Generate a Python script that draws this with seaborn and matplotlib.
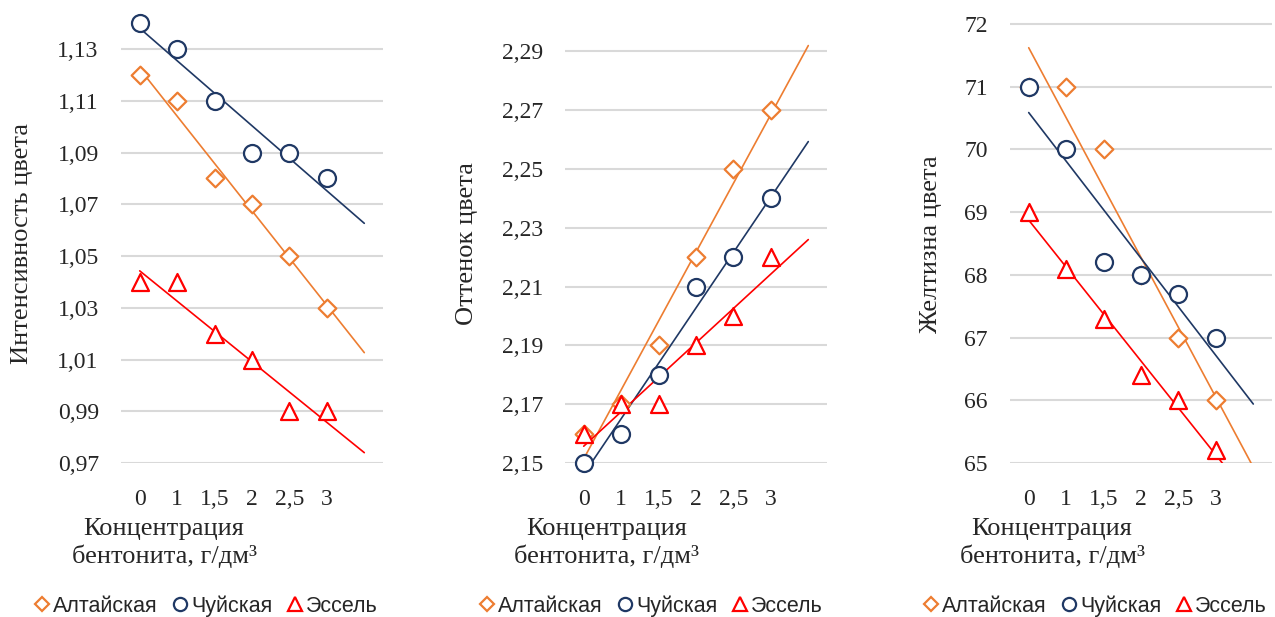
import numpy as np
import matplotlib
matplotlib.use("Agg")
import matplotlib.pyplot as plt
import seaborn as sns
from matplotlib.lines import Line2D

# ---------------- data ----------------
conc_labels = ["0", "1", "1,5", "2", "2,5", "3"]
series_names = ["Алтайская", "Чуйская", "Эссель"]

intensity_altai = [1.12, 1.11, 1.08, 1.07, 1.05, 1.03]
intensity_chui = [1.14, 1.13, 1.11, 1.09, 1.09, 1.08]
intensity_essel = [1.04, 1.04, 1.02, 1.01, 0.99, 0.99]
intensity_ticks = [0.97, 0.99, 1.01, 1.03, 1.05, 1.07, 1.09, 1.11, 1.13]

tone_altai = [2.16, 2.17, 2.19, 2.22, 2.25, 2.27]
tone_chui = [2.15, 2.16, 2.18, 2.21, 2.22, 2.24]
tone_essel = [2.16, 2.17, 2.17, 2.19, 2.20, 2.22]
tone_ticks = [2.15, 2.17, 2.19, 2.21, 2.23, 2.25, 2.27, 2.29]

yellow_altai = [71, 71, 70, 68, 67, 66]
yellow_chui = [71, 70, 68.2, 68, 67.7, 67]
yellow_essel = [69, 68.1, 67.3, 66.4, 66, 65.2]
yellow_ticks = [65, 66, 67, 68, 69, 70, 71, 72]

y_titles = ["Интенсивность цвета", "Оттенок цвета", "Желтизна цвета"]
x_title = "Концентрация\nбентонита, г/дм³"

# ---------------- style ----------------
sns.set_style("white")
plt.rcParams['font.family'] = ['Liberation Serif', 'DejaVu Serif']

colors = ["#ED7D31", "#1F3864", "#FF0000"]
markers = ["D", "o", "^"]
sizes = [81, 150, 150]

W, H = 1275, 617
fig = plt.figure(figsize=(W / 100, H / 100), dpi=100)

panels = [
    dict(data=[intensity_altai, intensity_chui, intensity_essel], ticks=intensity_ticks,
         ylim=(0.97, 1.149), fmt=lambda v: f"{v:.2f}".replace(".", ","),
         left=121, ylab_x=22, xlab_x=164, leg_x=206),
    dict(data=[tone_altai, tone_chui, tone_essel], ticks=tone_ticks,
         ylim=(2.15, 2.3075), fmt=lambda v: f"{v:.2f}".replace(".", ","),
         left=565, ylab_x=467, xlab_x=607, leg_x=651),
    dict(data=[yellow_altai, yellow_chui, yellow_essel], ticks=yellow_ticks,
         ylim=(65, 72.38), fmt=lambda v: f"{v:.0f}",
         left=1010, ylab_x=931, xlab_x=1052, leg_x=1095),
]

xpos = np.arange(len(conc_labels))
ax_bottom_px = 463

for i, p in enumerate(panels):
    ax = fig.add_axes([p["left"] / W, 1 - ax_bottom_px / H, 262 / W, ax_bottom_px / H])
    for vals, c, m, s in zip(p["data"], colors, markers, sizes):
        coef = np.polyfit(xpos, vals, 1)
        xt = np.array([0.0, len(conc_labels)])
        sns.lineplot(x=xt, y=np.polyval(coef, xt), color=c, linewidth=1.2, ax=ax, zorder=2)
        sns.scatterplot(x=xpos, y=vals, marker=m, s=s, color="white", edgecolor=c,
                        linewidth=1.6, ax=ax, clip_on=False, zorder=3, legend=False)
    ax.set_xlim(-0.5, 6.5)
    ax.set_ylim(*p["ylim"])
    ax.set_yticks(p["ticks"])
    ax.set_yticklabels([p["fmt"](v) for v in p["ticks"]], fontsize=17)
    ax.set_xticks(xpos)
    ax.set_xticklabels(conc_labels, fontsize=17)
    ax.tick_params(axis="y", length=0, pad=16)
    ax.tick_params(axis="x", length=0, pad=19)
    ax.grid(axis="y", color="#D9D9D9", linewidth=1.5)
    ax.grid(axis="x", visible=False)
    ax.set_axisbelow(True)
    for sp in ax.spines.values():
        sp.set_visible(False)
    ax.set_xlabel("")
    ax.set_ylabel("")

    fig.text(p["ylab_x"] / W, 1 - 244 / H, y_titles[i], rotation=90, ha="center",
             va="center", fontsize=19)
    fig.text(p["xlab_x"] / W, 1 - 543 / H, x_title, ha="center", va="center",
             fontsize=19, linespacing=1.2, multialignment="center")

    handles = [Line2D([], [], linestyle="none", marker=m, markersize=ms, markerfacecolor="white",
                      markeredgecolor=c, markeredgewidth=1.6)
               for m, c, ms in zip(markers, colors, [7, 9.5, 9.5])]
    fig.legend(handles, series_names, loc="center", bbox_to_anchor=(p["leg_x"] / W, 1 - 606 / H),
               ncol=3, frameon=False, handlelength=0.7, handletextpad=0.15, columnspacing=0.7,
               borderpad=0.1, borderaxespad=0.1,
               prop={"family": "Liberation Sans", "size": 15.5})

fig.savefig("out.png", dpi=100)
